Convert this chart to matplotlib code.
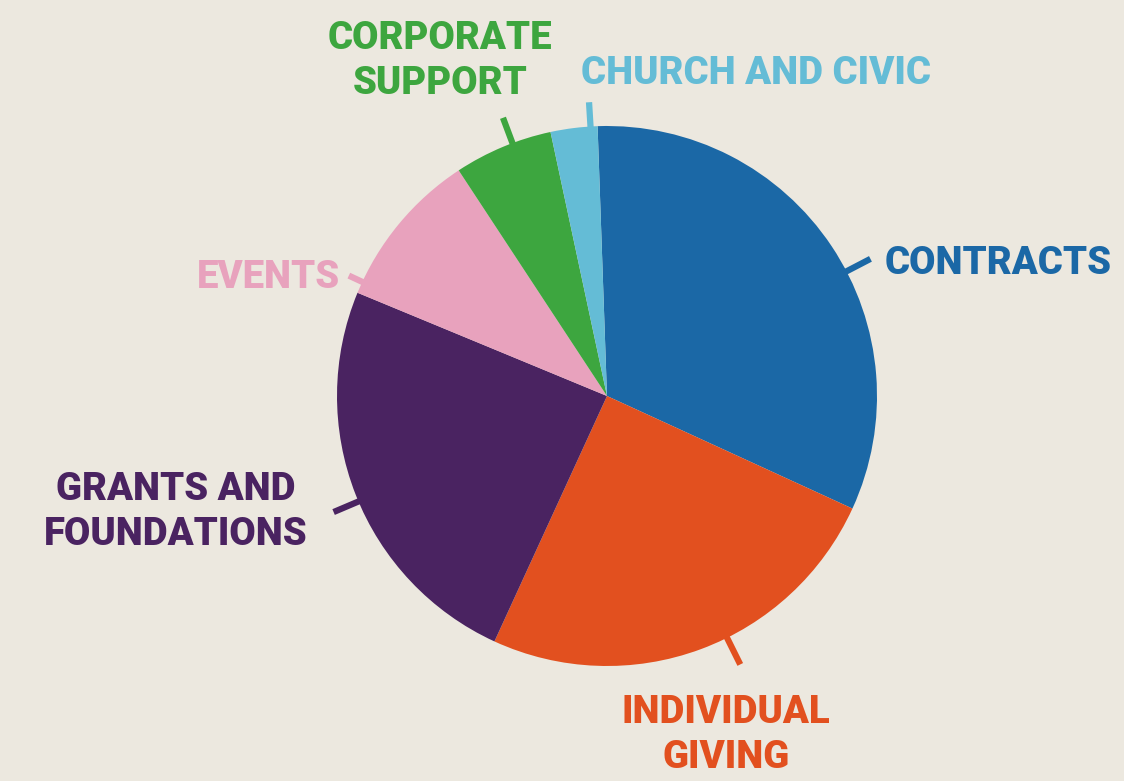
"""Revenue sources pie chart, hand-lettered poster style."""
import numpy as np
import matplotlib; matplotlib.use("Agg")
import matplotlib.pyplot as plt

labels = ["CONTRACTS", "INDIVIDUAL\nGIVING", "GRANTS AND\nFOUNDATIONS",
          "EVENTS", "CORPORATE\nSUPPORT", "CHURCH AND CIVIC"]
shares = [32.4, 25.0, 24.4, 9.5, 5.9, 2.8]
colors = ["#1b68a6", "#e2501f", "#4a2361", "#e8a2bd", "#3da63f", "#64bcd6"]

BG = "#ece8df"
W, H = 1124, 781
CX, CY, R = 607, H - 396, 270

# label placement: (x, y from top, ha), leader angle in degrees
label_pos = [(885, 264, "left"), (726, 735, "center"), (176, 512, "center"),
             (340, 277, "right"), (440, 61, "center"), (581, 73, "left")]
leader_ang = [27.5, -63.6, 203, 155, 110.5, 93.5]
leader_out = [1.10, 1.11, 1.10, 1.055, 1.10, 1.09]

plt.rcParams["font.family"] = ["Roboto", "DejaVu Sans"]
fig = plt.figure(figsize=(W / 100, H / 100), dpi=100, facecolor=BG)
ax = fig.add_axes([0, 0, 1, 1])
ax.set_facecolor(BG)
ax.set_xlim(0, W); ax.set_ylim(0, H)
ax.set_aspect("equal"); ax.axis("off")

ax.pie(shares, colors=colors, startangle=92, counterclock=False,
       center=(CX, CY), radius=R, wedgeprops=dict(linewidth=0), frame=False)
ax.set_xlim(0, W); ax.set_ylim(0, H)

for lab, c, (x, y, ha), ang, ro in zip(labels, colors, label_pos, leader_ang, leader_out):
    t = np.deg2rad(ang)
    ax.plot([CX + 0.97 * R * np.cos(t), CX + ro * R * np.cos(t)],
            [CY + 0.97 * R * np.sin(t), CY + ro * R * np.sin(t)],
            color=c, lw=4.5, solid_capstyle="butt", zorder=1)
    ax.text(x, H - y, lab, color=c, ha=ha, va="center", multialignment="center",
            fontsize=27.5, fontweight="black", linespacing=1.3)

plt.savefig("out.png", dpi=100, facecolor=BG)
plt.close()
